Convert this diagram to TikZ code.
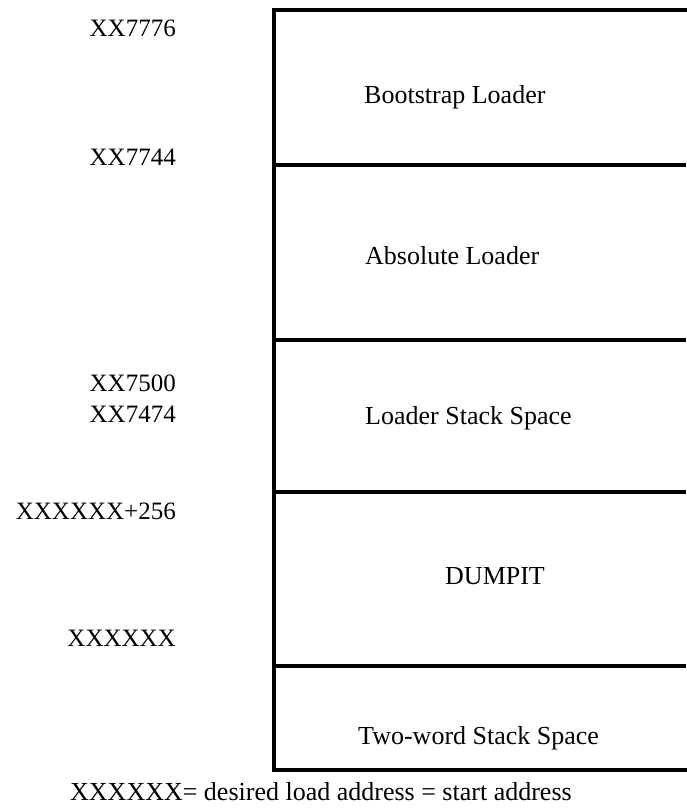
\documentclass[tikz,border=0pt]{standalone}
\usepackage{fontspec}
\setmainfont{Liberation Serif}
\begin{document}
\begin{tikzpicture}[x=1pt,y=-1pt,
  lbl/.style={inner sep=0pt,anchor=base east,font=\fontsize{25}{30}\selectfont},
  txt/.style={inner sep=0pt,anchor=base west,font=\fontsize{26}{31}\selectfont},
  rule/.style={line width=3.2pt,black}]
\useasboundingbox (0,0) rectangle (686,810);
% box frame
\coordinate (tl) at (274,10);
\coordinate (tr) at (686,10);
\coordinate (bl) at (274,770);
\coordinate (br) at (686,770);
\coordinate (l1) at (274,165); \coordinate (r1) at (686,165);
\coordinate (l2) at (274,340); \coordinate (r2) at (686,340);
\coordinate (l3) at (274,492); \coordinate (r3) at (686,492);
\coordinate (l4) at (274,666); \coordinate (r4) at (686,666);
\draw[rule,line cap=rect] (tr) -- (tl) -- (bl) -- (br);
\draw[rule] (l1) -- (r1);
\draw[rule] (l2) -- (r2);
\draw[rule] (l3) -- (r3);
\draw[rule] (l4) -- (r4);
% address labels
\node[lbl] (a1) at (176,37) {XX7776};
\node[lbl] (a2) at (176,166) {XX7744};
\node[lbl] (a3) at (176,391) {XX7500};
\node[lbl] (a4) at (176,422) {XX7474};
\node[lbl] (a5) at (176,519) {XXXXXX+256};
\node[lbl] (a6) at (176,646) {XXXXXX};
% region texts
\node[txt] (t1) at (364,104) {Bootstrap Loader};
\node[txt] (t2) at (365,264) {Absolute Loader};
\node[txt] (t3) at (365,424) {Loader Stack Space};
\node[txt] (t4) at (445,584) {DUMPIT};
\node[txt] (t5) at (358,744) {Two-word Stack Space};
% caption
\node[txt] (cap) at (70,800) {XXXXXX= desired load address = start address};
\end{tikzpicture}
\end{document}
